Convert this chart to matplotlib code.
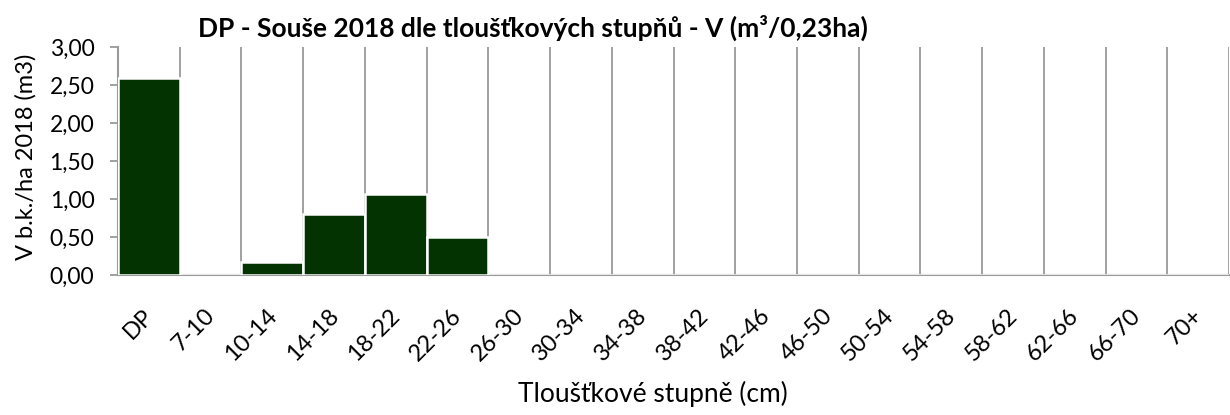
import numpy as np
import matplotlib.pyplot as plt
from matplotlib.transforms import ScaledTranslation

plt.rcParams['font.family'] = ['Lato', 'DejaVu Sans']

categories = ["DP", "7-10", "10-14", "14-18", "18-22", "22-26", "26-30", "30-34",
              "34-38", "38-42", "42-46", "46-50", "50-54", "54-58", "58-62",
              "62-66", "66-70", "70+"]
values = [2.59, 0, 0.17, 0.80, 1.07, 0.50, 0, 0, 0, 0, 0, 0, 0, 0, 0, 0, 0, 0]
y_ticks = [0, 0.5, 1.0, 1.5, 2.0, 2.5, 3.0]

fig = plt.figure(figsize=(12.3, 4.15), dpi=100)
ax = fig.add_axes([118 / 1230, 1 - 275 / 415, 1111 / 1230, 228 / 415])

x = np.arange(len(categories))
ax.bar(x, values, width=1.0, color="#033300", edgecolor="white", linewidth=1.8, zorder=3)

ax.set_xlim(-0.5, len(categories) - 0.5)
ax.set_ylim(0, 3)
ax.set_yticks(y_ticks)
ax.set_yticklabels([f"{v:.2f}".replace(".", ",") for v in y_ticks], fontsize=16.5)

# svislé mřížky mezi kategoriemi
ax.set_xticks(np.arange(0.5, len(categories), 1.0), minor=True)
ax.grid(axis="x", which="minor", color="#9a9a9a", linewidth=1.3, zorder=0)
ax.set_xticks(x)
ax.set_xticklabels(categories, rotation=45, ha="right", va="center",
                   rotation_mode="anchor", fontsize=17)
ax.tick_params(axis="x", which="both", length=0, pad=27)
ax.tick_params(axis="y", length=6, color="#9a9a9a", width=1.3, pad=11)

# jemný posun popisků, aby konec textu seděl na středu kategorie
shift = ScaledTranslation(1 / 100, 0, fig.dpi_scale_trans)
for lbl in ax.get_xticklabels():
    lbl.set_transform(lbl.get_transform() + shift)

for side in ["top", "right"]:
    ax.spines[side].set_visible(False)
for side in ["left", "bottom"]:
    ax.spines[side].set_color("#9a9a9a")
    ax.spines[side].set_linewidth(1.5)

fig.text(26 / 1230, 1 - 157 / 415, "V b.k./ha 2018 (m3)", rotation=90,
         ha="center", va="center", fontsize=17)
fig.text(653 / 1230, 1 - 394 / 415, "Tloušťkové stupně (cm)", ha="center", va="center", fontsize=19)
fig.text(533 / 1230, 1 - 28 / 415, "DP - Souše 2018 dle tloušťkových stupňů - V (m³/0,23ha)",
         ha="center", va="center", fontsize=19, fontweight="bold")

fig.savefig("out.png", dpi=100)
